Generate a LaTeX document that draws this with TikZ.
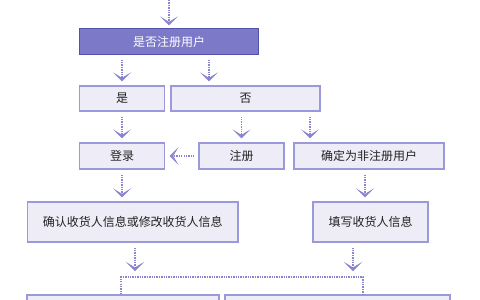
\documentclass[tikz,border=0pt]{standalone}
\usepackage{fontspec}
\setmainfont{Noto Sans CJK SC}
\usetikzlibrary{arrows.meta}
\definecolor{darkfill}{HTML}{7C79C8}
\definecolor{darkline}{HTML}{5451A8}
\definecolor{lightfill}{HTML}{EEEDF7}
\definecolor{lightline}{HTML}{9C99DA}
\definecolor{arrcol}{HTML}{8884D0}
\definecolor{txt}{HTML}{222222}
\tikzset{
  box/.style={draw=lightline, line width=1.2pt, fill=lightfill, text=txt, inner sep=0pt, minimum height=25pt, font=\fontsize{12}{14}\selectfont},
  darkbox/.style={box, draw=darkline, fill=darkfill, text=white},
  conn/.style={draw=arrcol, line width=1.6pt, dash pattern=on 1.3pt off 1.1pt},
  arr/.style={conn, -{Stealth[length=9pt,width=18pt,inset=5.5pt,fill=arrcol,line width=0.6pt,sep=0pt]}},
}
\begin{document}
\begin{tikzpicture}[x=1pt,y=-1pt]
\useasboundingbox (0,0) rectangle (480,300);
\fill[white] (0,0) rectangle (480,300);
\begin{scope}
\clip (0,0) rectangle (480,300);
\node[darkbox, minimum width=179pt, minimum height=26pt] (top) at (169,41.5) {是否注册用户};
\node[box, minimum width=85pt] (yes) at (122,98.5) {是};
\node[box, minimum width=149pt] (no) at (245.5,98.5) {否};
\node[box, minimum width=85pt, minimum height=26pt] (login) at (122,156) {登录};
\node[box, minimum width=85pt, minimum height=26pt] (reg) at (241.5,156) {注册};
\node[box, minimum width=150pt, minimum height=26pt] (nonreg) at (369,156) {确定为非注册用户};
\node[box, minimum width=210.5pt, minimum height=40pt] (confirm) at (132.75,222) {确认收货人信息或修改收货人信息};
\node[box, minimum width=115pt, minimum height=40pt] (fillin) at (370.5,222) {填写收货人信息};
\node[box, minimum width=192pt, minimum height=30pt] (botl) at (123,310) {};
\node[box, minimum width=225pt, minimum height=30pt] (botr) at (337.5,310) {};

\coordinate (start) at (169,0);
\coordinate (xa) at (122,0);
\coordinate (xb) at (209,0);
\coordinate (xc) at (310,0);
\coordinate (xd) at (365,0);
\coordinate (xe) at (135,0);
\coordinate (xf) at (353,0);
\coordinate (ca) at (135,271);
\coordinate (cb) at (353,271);
\coordinate (bl) at (121,277);
\coordinate (br) at (363,277);

\draw[arr, shorten >=2.5pt] (start) -- (top.north);
\draw[arr, shorten <=4.5pt, shorten >=4pt] (top.south -| xa) -- (yes.north -| xa);
\draw[arr, shorten <=4.5pt, shorten >=4pt] (top.south -| xb) -- (no.north -| xb);
\draw[arr, shorten <=5pt, shorten >=4pt] (yes.south -| login) -- (login.north);
\draw[arr, shorten <=5pt, shorten >=4pt] (no.south -| reg) -- (reg.north);
\draw[arr, shorten <=5pt, shorten >=4pt] (no.south -| xc) -- (nonreg.north -| xc);
\draw[arr, shorten <=4pt, shorten >=4.5pt] (reg.west) -- (login.east);
\draw[arr, shorten <=5pt, shorten >=4pt] (login.south) -- (confirm.north -| login);
\draw[arr, shorten <=5pt, shorten >=4pt] (nonreg.south -| xd) -- (fillin.north -| xd);
\draw[arr, shorten <=5pt] (confirm.south -| xe) -- (ca);
\draw[arr, shorten <=5pt] (fillin.south -| xf) -- (cb);
\draw[conn] (botl.north -| bl) -- (bl) -- (br) -- (botr.north -| br);
\end{scope}
\end{tikzpicture}
\end{document}
